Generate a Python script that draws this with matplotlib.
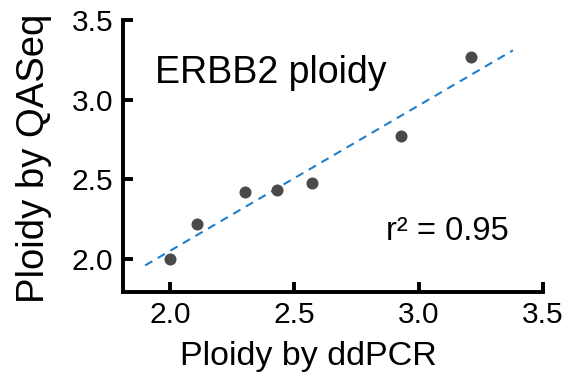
import numpy as np
import matplotlib
matplotlib.use("Agg")
import matplotlib.pyplot as plt

plt.rcParams['font.family'] = ['Liberation Sans', 'DejaVu Sans']

# ERBB2 ploidy measured by both methods
ddpcr = [2.00, 2.11, 2.30, 2.43, 2.57, 2.93, 3.21]
qaseq = [2.00, 2.22, 2.42, 2.435, 2.48, 2.77, 3.27]
fit_range = [1.90, 3.38]

x_ticks = [2.0, 2.5, 3.0, 3.5]
y_ticks = [2.0, 2.5, 3.0, 3.5]

slope, intercept = np.polyfit(ddpcr, qaseq, 1)
r2 = np.corrcoef(ddpcr, qaseq)[0, 1] ** 2

fig = plt.figure(figsize=(5.69, 3.81), dpi=100)
ax = fig.add_axes([0.2157, 0.2344, 0.7383, 0.7131])

fx = np.array(fit_range)
ax.plot(fx, slope * fx + intercept, ls=(0, (4, 3)), color='#1f7fcc', lw=1.5, zorder=1)
ax.scatter(ddpcr, qaseq, s=75, color='#4a4a4a', zorder=2, linewidths=0)

ax.set_xlim(1.81, 3.5)
ax.set_ylim(1.795, 3.5)
ax.set_xticks(x_ticks)
ax.set_yticks(y_ticks)
ax.set_xticklabels([f'{t:.1f}' for t in x_ticks])
ax.set_yticklabels([f'{t:.1f}' for t in y_ticks])

for side in ['top', 'right']:
    ax.spines[side].set_visible(False)
for side in ['left', 'bottom']:
    ax.spines[side].set_linewidth(2.8)
ax.tick_params(direction='in', length=7, width=2.8, labelsize=21.5, pad=7)

ax.set_xlabel('Ploidy by ddPCR', fontsize=24.5)
ax.set_ylabel('Ploidy by QASeq', fontsize=27.5)
ax.xaxis.set_label_coords(0.442, -0.182)
ax.yaxis.set_label_coords(-0.168, 0.49)

ax.text(1.94, 3.105, 'ERBB2 ploidy', fontsize=27)
ax.text(2.871, 2.119, f'r\u00b2 = {r2:.2f}', fontsize=23.5)

fig.savefig('out.png', dpi=100)
